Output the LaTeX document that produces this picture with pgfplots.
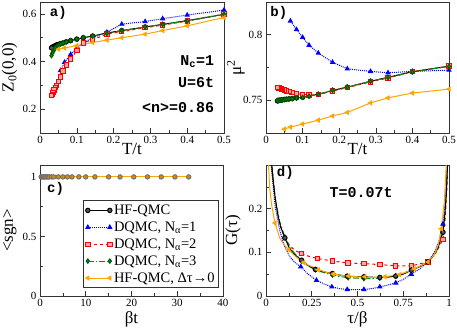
\documentclass[border=0pt]{standalone}
\usepackage{pgfplots}
\pgfplotsset{compat=1.18}
\usepackage{fontspec}
\setmainfont{Liberation Serif}
\setmonofont{Liberation Mono}
\usetikzlibrary{plotmarks}

\definecolor{cblue}{RGB}{0,0,255}
\definecolor{cred}{RGB}{255,0,0}
\definecolor{cgreen}{RGB}{0,150,0}
\definecolor{corange}{RGB}{255,165,0}

\newcommand{\tickfont}{\fontsize{11}{13}\selectfont}
\newcommand{\labfont}{\fontsize{17}{19}\selectfont}
\newcommand{\tagfont}{\fontsize{14}{16}\selectfont\ttfamily\bfseries}
\newcommand{\annfont}{\fontsize{15}{17}\selectfont\ttfamily\bfseries}

\pgfplotsset{
  panel/.style={
    scale only axis, width=183pt, height=131pt, anchor=south west,
    tick align=inside, tick pos=left,
    major tick length=5pt, minor tick length=3pt,
    axis line style={black!80, line width=0.8pt},
    tick style={black!80, line width=0.6pt},
    tick label style={font=\tickfont},
    label style={font=\labfont},
    /pgf/number format/assume math mode=true,
    scaled ticks=false,
    every axis plot/.append style={line width=1pt, mark size=2.2pt},
  },
  sblack/.style={black, mark=*, mark options={solid, fill=black!65, draw=black}},
  sblue/.style={cblue, densely dotted, mark=triangle*, mark options={solid, fill=cblue}},
  sred/.style={cred, dashed, mark=square*, mark options={solid, fill=cred!35, draw=cred}},
  sgreen/.style={cgreen, dash pattern=on 6pt off 2pt on 1.5pt off 2pt, mark=diamond*, mark options={solid, fill=cgreen, draw=cgreen!60!black}},
  sorange/.style={corange, mark=triangle*, mark options={solid, rotate=90, fill=corange}},
}

\begin{document}
\begin{tikzpicture}[x=1pt,y=1pt]
\useasboundingbox (0,0) rectangle (457,329);

% ---------------- a) Z0(0,0)
\begin{axis}[panel, at={(40pt,196pt)}, width=184pt,
  xmin=0, xmax=0.5, ymin=0.1, ymax=0.65,
  xtick={0,0.1,0.2,0.3,0.4,0.5}, minor xtick={0.05,0.15,0.25,0.35,0.45},
  ytick={0.2,0.4,0.6}, minor ytick={0.3,0.5},
  xlabel={T/t}, ylabel={Z\textsubscript{0}(0,0)},
  xlabel style={at={(axis description cs:0.5,-0.12)}, anchor=center},
  ylabel style={at={(axis description cs:-0.165,0.5)}, anchor=center},
]
\addplot[sblack] coordinates {
(0.5,0.598)(0.4,0.572)(0.3333,0.556)(0.2857,0.545)(0.2222,0.530)(0.1818,0.520)
(0.1429,0.507)(0.1176,0.500)(0.1,0.494)(0.0833,0.488)(0.0714,0.483)(0.0625,0.478)
(0.0556,0.475)(0.05,0.472)(0.0455,0.470)(0.0417,0.467)(0.0385,0.464)(0.0357,0.462)
(0.0333,0.460)(0.0313,0.457)};
\addplot[sblue] coordinates {
(0.5,0.616)(0.4,0.595)(0.3333,0.580)(0.2857,0.568)(0.2222,0.557)(0.1818,0.523)
(0.1429,0.500)(0.1176,0.478)(0.1,0.455)(0.0833,0.430)(0.0667,0.397)(0.0556,0.362)};
\addplot[sred] coordinates {
(0.5,0.600)(0.4,0.570)(0.3333,0.553)(0.2857,0.542)(0.2222,0.525)(0.1818,0.515)
(0.1429,0.492)(0.1176,0.478)(0.1,0.446)(0.0833,0.410)(0.0714,0.385)(0.0625,0.360)
(0.0556,0.335)(0.05,0.315)(0.0455,0.300)(0.0417,0.290)(0.0385,0.280)(0.0357,0.270)
(0.0333,0.262)(0.0313,0.258)};
\addplot[sgreen] coordinates {
(0.5,0.598)(0.4,0.570)(0.3333,0.556)(0.2857,0.545)(0.2222,0.530)(0.1818,0.518)
(0.1429,0.507)(0.1176,0.500)(0.1,0.494)(0.0833,0.488)(0.0714,0.482)(0.0625,0.477)
(0.0556,0.473)(0.05,0.468)(0.0455,0.463)(0.0417,0.458)(0.0385,0.450)(0.0357,0.443)
(0.0333,0.435)(0.0313,0.425)};
\addplot[sorange] coordinates {
(0.5,0.585)(0.4,0.550)(0.3333,0.530)(0.2857,0.515)(0.2222,0.500)(0.1818,0.490)
(0.1429,0.480)(0.1,0.467)(0.0667,0.457)(0.05,0.452)};
\node[anchor=west, font=\tagfont] at (rel axis cs:0.035,0.92) {a)};
\node[anchor=east, font=\annfont] at (axis cs:0.483,0.398) {N\textsubscript{c}=1};
\node[anchor=east, font=\annfont] at (axis cs:0.483,0.312) {U=6t};
\node[anchor=east, font=\annfont] at (axis cs:0.483,0.208) {<n>=0.86};
\end{axis}

% ---------------- b) mu^2
\begin{axis}[panel, at={(266pt,196pt)},
  xmin=0, xmax=0.5, ymin=0.725, ymax=0.825,
  xtick={0,0.1,0.2,0.3,0.4,0.5}, minor xtick={0.05,0.15,0.25,0.35,0.45},
  ytick={0.75,0.8}, minor ytick={0.775},
  xlabel={T/t}, ylabel={μ\textsuperscript{2}},
  xlabel style={at={(axis description cs:0.5,-0.12)}, anchor=center},
  ylabel style={at={(axis description cs:-0.165,0.5)}, anchor=center},
]
\addplot[sblack] coordinates {
(0.5,0.7760)(0.4,0.7718)(0.3333,0.7675)(0.2857,0.7645)(0.2222,0.7600)(0.1818,0.7575)
(0.1429,0.7545)(0.1176,0.7533)(0.1,0.7523)(0.0833,0.7518)(0.0714,0.7513)(0.0625,0.7510)
(0.0556,0.7508)(0.05,0.7506)(0.0455,0.7504)(0.0417,0.7502)(0.0385,0.7500)(0.0357,0.7500)
(0.0333,0.7497)(0.0313,0.7495)};
\addplot[sblue] coordinates {
(0.5,0.773)(0.4,0.772)(0.3333,0.771)(0.2857,0.772)(0.2222,0.774)(0.1818,0.779)
(0.1429,0.786)(0.1176,0.792)(0.1,0.798)(0.0833,0.804)(0.0667,0.8105)};
\addplot[sred] coordinates {
(0.5,0.7760)(0.4,0.7718)(0.3333,0.7670)(0.2857,0.7640)(0.2222,0.7597)(0.1818,0.7570)
(0.1429,0.7543)(0.1176,0.7540)(0.1,0.7545)(0.0833,0.7550)(0.0714,0.7560)(0.0625,0.7565)
(0.0556,0.7570)(0.05,0.7577)(0.0455,0.7580)(0.0417,0.7585)(0.0385,0.7590)(0.0357,0.7595)
(0.0333,0.7598)(0.0313,0.7597)};
\addplot[sgreen] coordinates {
(0.5,0.7758)(0.4,0.7716)(0.3333,0.7673)(0.2857,0.7645)(0.2222,0.7600)(0.1818,0.7577)
(0.1429,0.7546)(0.1176,0.7532)(0.1,0.7522)(0.0833,0.7517)(0.0714,0.7512)(0.0625,0.7509)
(0.0556,0.7507)(0.05,0.7505)(0.0455,0.7503)(0.0417,0.7502)(0.0385,0.7501)(0.0357,0.7500)
(0.0333,0.7498)(0.0313,0.7497)};
\addplot[sorange] coordinates {
(0.5,0.7585)(0.4,0.7555)(0.3333,0.7518)(0.2857,0.7480)(0.2222,0.7407)(0.1818,0.7380)
(0.1429,0.7348)(0.1,0.7318)(0.0667,0.7295)(0.05,0.7280)};
\node[anchor=west, font=\tagfont] at (rel axis cs:0.005,0.92) {b)};
\end{axis}

% ---------------- c) <sgn>
\begin{axis}[panel, at={(40pt,33pt)},
  xmin=0, xmax=40, ymin=0, ymax=1.1,
  xtick={0,10,20,30,40}, minor xtick={5,15,25,35},
  ytick={0,0.5,1}, minor ytick={0.25,0.75},
  xlabel={βt}, ylabel={<sgn>},
  xlabel style={at={(axis description cs:0.5,-0.175)}, anchor=center},
  ylabel style={at={(axis description cs:-0.165,0.5)}, anchor=center},
  legend style={at={(axis description cs:0.978,0.061)}, anchor=south east,
    font=\fontsize{14.5}{16}\selectfont, draw=black!80, line width=0.8pt,
    inner xsep=2pt, inner ysep=2pt, row sep=1.8pt, cells={anchor=west}},
  legend image code/.code={\draw[#1] plot coordinates {(0pt,0pt) (22pt,0pt)};},
]
\addlegendimage{sblack}\addlegendentry{HF-QMC}
\addlegendimage{sblue}\addlegendentry{DQMC, N\textsubscript{α}=1}
\addlegendimage{sred}\addlegendentry{DQMC, N\textsubscript{α}=2}
\addlegendimage{sgreen}\addlegendentry{DQMC, N\textsubscript{α}=3}
\addlegendimage{sorange}\addlegendentry{HF-QMC, Δτ→0}
\addplot[cred, dashed, forget plot] coordinates {
(0.25,1)(0.5,1)(1,1)(2,1)(3,1)(4,1)(5,1)(6,1)(7,1)(8.5,1)(10,1)(12,1)(15,1)
(17.5,1)(20.5,1)(23.5,1)(26.5,1)(29.5,1)(32.5,1)};
\addplot[corange, forget plot, mark=*, mark options={fill=corange!85!black, draw=black!55}] coordinates {
(0.25,1)(0.5,1)(0.75,1)(1,1)(1.25,1)(1.5,1)(1.75,1)(2,1)(2.5,1)(3,1)(4,1)(5,1)(6,1)
(7,1)(8.5,1)(10,1)(12,1)(15,1)(17.5,1)(20.5,1)(23.5,1)(26.5,1)(29.5,1)(32.5,1)};
\node[anchor=west, font=\tagfont] at (rel axis cs:0.02,0.82) {c)};
\end{axis}

% ---------------- d) G(tau)
\begin{axis}[panel, at={(266pt,33pt)},
  xmin=0, xmax=1, ymin=0, ymax=0.3,
  xtick={0,0.25,0.5,0.75,1}, minor xtick={0.125,0.375,0.625,0.875},
  xticklabels={0,0.25,0.5,0.75,1},
  ytick={0,0.1,0.2}, minor ytick={0.05,0.15,0.25},
  xlabel={τ/β}, ylabel={G(τ)},
  xlabel style={at={(axis description cs:0.5,-0.175)}, anchor=center},
  ylabel style={at={(axis description cs:-0.18,0.5)}, anchor=center},
]
% lines
\addplot[sblue, no markers] coordinates {
(0,0.57)(0.01,0.45)(0.02,0.36)(0.03,0.29)(0.05,0.205)(0.075,0.15)(0.1,0.115)(0.13,0.09)
(0.16,0.076)(0.19,0.067)(0.23,0.05)(0.276,0.036)(0.32,0.027)(0.36,0.021)(0.4,0.017)
(0.444,0.015)(0.49,0.0145)(0.535,0.015)(0.58,0.017)(0.622,0.021)(0.665,0.025)(0.709,0.030)
(0.75,0.038)(0.794,0.05)(0.84,0.062)(0.885,0.078)(0.92,0.1)(0.945,0.125)(0.967,0.165)
(0.98,0.22)(0.99,0.3)(1,0.43)};
\addplot[sred, no markers] coordinates {
(0,0.57)(0.01,0.45)(0.02,0.37)(0.03,0.31)(0.05,0.225)(0.075,0.165)(0.1,0.135)(0.13,0.115)
(0.16,0.104)(0.194,0.097)(0.24,0.09)(0.28,0.086)(0.363,0.080)(0.449,0.0757)(0.535,0.074)
(0.622,0.072)(0.709,0.069)(0.794,0.069)(0.885,0.078)(0.93,0.1)(0.967,0.13)(0.98,0.18)
(0.99,0.26)(1,0.43)};
\addplot[sgreen, no markers] coordinates {
(0,0.57)(0.01,0.45)(0.02,0.37)(0.03,0.305)(0.05,0.225)(0.075,0.17)(0.103,0.135)(0.13,0.112)
(0.16,0.096)(0.194,0.08)(0.23,0.069)(0.27,0.06)(0.32,0.053)(0.363,0.048)(0.4,0.045)
(0.449,0.042)(0.49,0.041)(0.535,0.04)(0.58,0.04)(0.622,0.041)(0.665,0.043)(0.709,0.046)
(0.75,0.052)(0.794,0.06)(0.84,0.068)(0.885,0.078)(0.92,0.095)(0.945,0.118)(0.967,0.148)
(0.98,0.2)(0.99,0.28)(1,0.43)};
\addplot[sblack, no markers] coordinates {
(0,0.57)(0.01,0.45)(0.02,0.37)(0.03,0.305)(0.04,0.26)(0.05,0.225)(0.065,0.185)(0.08,0.158)
(0.103,0.133)(0.125,0.112)(0.15,0.097)(0.194,0.082)(0.23,0.07)(0.27,0.061)(0.32,0.055)
(0.363,0.0515)(0.4,0.048)(0.444,0.0455)(0.49,0.0445)(0.535,0.044)(0.58,0.043)(0.622,0.0425)
(0.66,0.0435)(0.709,0.0455)(0.75,0.05)(0.794,0.059)(0.84,0.067)(0.885,0.078)(0.92,0.095)
(0.94,0.11)(0.955,0.13)(0.967,0.146)(0.975,0.175)(0.985,0.23)(0.99,0.28)(1,0.43)};
\addplot[sorange, no markers] coordinates {
(0,0.57)(0.005,0.42)(0.01,0.33)(0.02,0.25)(0.03,0.21)(0.049,0.167)(0.075,0.133)(0.1,0.117)
(0.125,0.106)(0.155,0.093)(0.186,0.082)(0.23,0.071)(0.27,0.064)(0.315,0.056)(0.36,0.051)
(0.4,0.048)(0.444,0.046)(0.5,0.044)(0.55,0.043)(0.594,0.0425)(0.65,0.044)(0.7,0.047)
(0.75,0.052)(0.8,0.06)(0.85,0.07)(0.885,0.078)(0.92,0.095)(0.94,0.115)(0.958,0.154)
(0.975,0.22)(0.985,0.3)(1,0.43)};
% markers
\addplot[sblue, only marks] coordinates {
(0.19,0.067)(0.276,0.036)(0.36,0.021)(0.444,0.015)(0.535,0.015)(0.622,0.021)(0.709,0.030)
(0.794,0.05)(0.885,0.078)(0.967,0.165)};
\addplot[sred, only marks] coordinates {
(0.194,0.097)(0.28,0.086)(0.363,0.080)(0.449,0.0757)(0.535,0.074)(0.622,0.072)(0.709,0.069)
(0.794,0.069)(0.885,0.078)(0.967,0.13)};
\addplot[sgreen, only marks] coordinates {
(0.103,0.135)(0.194,0.08)(0.27,0.06)(0.363,0.048)(0.449,0.042)(0.535,0.04)(0.622,0.041)
(0.709,0.046)(0.794,0.06)(0.885,0.078)(0.967,0.148)};
\addplot[sblack, only marks] coordinates {
(0.103,0.133)(0.194,0.082)(0.27,0.061)(0.363,0.0515)(0.444,0.0455)(0.535,0.044)(0.622,0.0425)
(0.709,0.0455)(0.794,0.059)(0.885,0.078)(0.967,0.146)};
\addplot[sorange, only marks] coordinates {
(0.049,0.167)(0.125,0.106)(0.205,0.077)(0.285,0.06)(0.367,0.05)(0.45,0.046)(0.54,0.044)
(0.65,0.044)(0.73,0.049)(0.81,0.062)(0.885,0.078)(0.958,0.154)};
\node[anchor=west, font=\tagfont] at (rel axis cs:0.04,0.937) {d)};
\node[font=\annfont] at (axis cs:0.52,0.236) {T=0.07t};
\end{axis}
\end{tikzpicture}
\end{document}
